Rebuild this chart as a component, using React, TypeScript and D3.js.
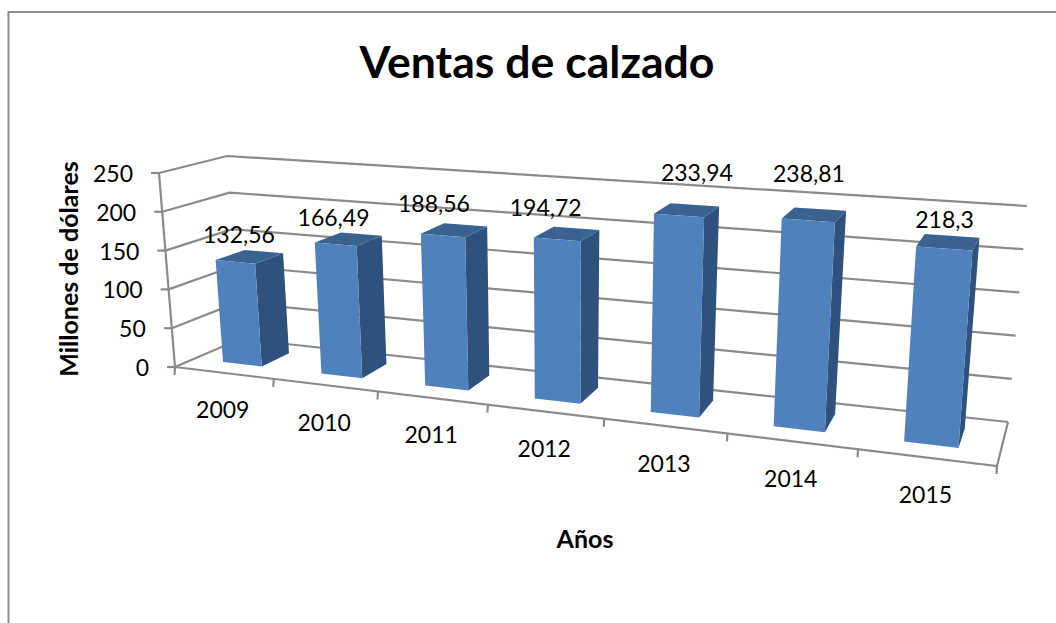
import React from "react";
import * as d3 from "d3";

const years = ["2009", "2010", "2011", "2012", "2013", "2014", "2015"];
const sales = [132.56, 166.49, 188.56, 194.72, 233.94, 238.81, 218.3];
const salesLabels = ["132,56", "166,49", "188,56", "194,72", "233,94", "238,81", "218,3"];
const valueTicks = [0, 50, 100, 150, 200, 250];

// label displacement from the top centre of each bar (hand placed in the source chart)
const labelNudge = [[-9, -22], [-13.5, -22], [-19, -27], [-20, -27], [11, -38], [-4.5, -41], [-3, -23]];

type Pt = [number, number];
// box corners in screen space
const floorFrontL: Pt = [175, 367], floorFrontR: Pt = [997, 466];
const floorBackL: Pt = [240, 339], floorBackR: Pt = [1008, 422];
const topFrontL: Pt = [159, 173], topFrontR: Pt = [1014, 233];
const topBackL: Pt = [227, 156], topBackR: Pt = [1027, 206];

const FONT = "Lato, 'Open Sans', sans-serif";
const GRID = "#8a8a8a";
const FRONT = "#4f81bd", SIDE = "#2f527c", TOP = "#3a6291";

const persp = 1.22;
// foreshortening along the category axis
const along = (u: number) => u / (persp + (1 - persp) * u);
const catScale = d3.scaleLinear().domain([0, years.length]).range([0, 1]);
const valScale = d3.scaleLinear().domain([0, 250]).range([0, 1]);
const lerp = (a: Pt, b: Pt, k: number): Pt => [a[0] + (b[0] - a[0]) * k, a[1] + (b[1] - a[1]) * k];

// cat: category position, depth: 0 front..1 back, val: data value
const project = (cat: number, depth: number, val: number): Pt => {
  const t = along(catScale(cat));
  const bot = lerp(lerp(floorFrontL, floorFrontR, t), lerp(floorBackL, floorBackR, t), depth);
  const top = lerp(lerp(topFrontL, topFrontR, t), lerp(topBackL, topBackR, t), depth);
  return lerp(bot, top, valScale(val));
};

const poly = (pts: Pt[]) => d3.line()(pts) + "Z";
const BAR_HALF = 0.2, D0 = 0.3, D1 = 0.75;

export default function App() {
  const n = years.length;
  const vMax = valueTicks[valueTicks.length - 1];
  const lineProps = { stroke: GRID, strokeWidth: 2.2, fill: "none" };
  return (
    <svg width={1056} height={623} style={{ position: "absolute", left: 0, top: 0, background: "#fff" }}>
      <path d="M8.5,623 V12 H1056" fill="none" stroke="#8c8c8c" strokeWidth={2} />
      <text x={537} y={78} textAnchor="middle" fontFamily={FONT} fontWeight={700} fontSize={44.6} fill="#000">Ventas de calzado</text>
      <text transform="translate(78,269) rotate(-90)" textAnchor="middle" fontFamily={FONT} fontWeight={700} fontSize={25} fill="#000">Millones de dólares</text>
      <text x={585} y={548} textAnchor="middle" fontFamily={FONT} fontWeight={700} fontSize={25} fill="#000">Años</text>

      {valueTicks.map((v) => {
        const a = project(0, 0, v), b = project(0, 1, v), c = project(n, 1, v);
        return (
          <g key={v}>
            <path d={d3.line()([a, b, c]) as string} {...lineProps} />
            <path d={d3.line()([[a[0] - 8, a[1]], a]) as string} {...lineProps} />
            <text x={a[0] - 26} y={a[1] + 9} textAnchor="end" fontFamily={FONT} fontSize={23} fill="#000">{v}</text>
          </g>
        );
      })}
      <path d={d3.line()([project(0, 0, 0), project(0, 0, vMax)]) as string} {...lineProps} />
      <path d={d3.line()([project(n, 1, 0), project(n, 0, 0), project(0, 0, 0)]) as string} {...lineProps} />
      {d3.range(n + 1).map((i) => {
        const a = project(i, 0, 0);
        return <path key={i} d={d3.line()([a, [a[0] - 0.5, a[1] + 8]]) as string} {...lineProps} />;
      })}

      {years.map((y, i) => {
        const c0 = i + 0.5 - BAR_HALF, c1 = i + 0.5 + BAR_HALF, v = sales[i];
        const fbl = project(c0, D0, 0), fbr = project(c1, D0, 0), ftl = project(c0, D0, v), ftr = project(c1, D0, v);
        const bbr = project(c1, D1, 0), btr = project(c1, D1, v), btl = project(c0, D1, v);
        const anchor = project(i + 0.5, 0.5, v);
        const floor = project(i + 0.5, 0, 0);
        return (
          <g key={y}>
            <path d={poly([ftr, btr, bbr, fbr])} fill={SIDE} />
            <path d={poly([ftl, btl, btr, ftr])} fill={TOP} />
            <path d={poly([ftl, ftr, fbr, fbl])} fill={FRONT} />
            <text x={anchor[0] + labelNudge[i][0]} y={anchor[1] + labelNudge[i][1] + 8} textAnchor="middle" fontFamily={FONT} fontSize={23} fill="#000">{salesLabels[i]}</text>
            <text x={floor[0] - 1} y={floor[1] + 45.5} textAnchor="middle" fontFamily={FONT} fontSize={23} fill="#000">{y}</text>
          </g>
        );
      })}
    </svg>
  );
}
